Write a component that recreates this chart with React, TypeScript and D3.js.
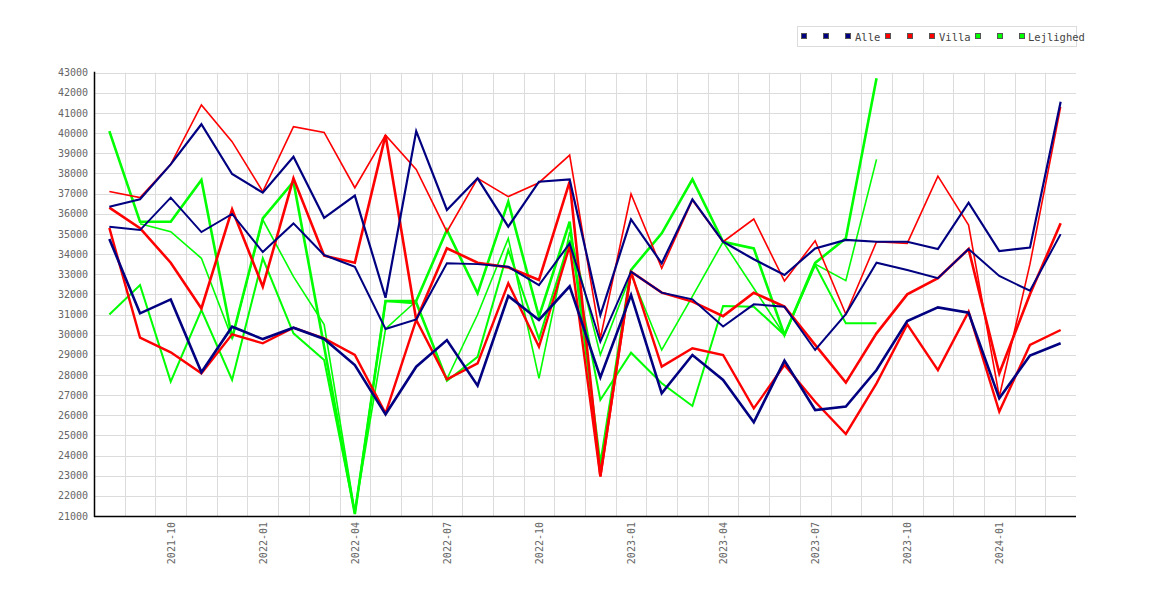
import React from "react";
import * as d3 from "d3";

const months = [
  "2021-08", "2021-09", "2021-10", "2021-11", "2021-12",
  "2022-01", "2022-02", "2022-03", "2022-04", "2022-05", "2022-06",
  "2022-07", "2022-08", "2022-09", "2022-10", "2022-11", "2022-12",
  "2023-01", "2023-02", "2023-03", "2023-04", "2023-05", "2023-06",
  "2023-07", "2023-08", "2023-09", "2023-10", "2023-11", "2023-12",
  "2024-01", "2024-02", "2024-03",
];

const xTickLabels = [
  "2021-10", "2022-01", "2022-04", "2022-07", "2022-10",
  "2023-01", "2023-04", "2023-07", "2023-10", "2024-01",
];

const yTicks = [
  21000, 22000, 23000, 24000, 25000, 26000, 27000, 28000, 29000, 30000, 31000, 32000,
  33000, 34000, 35000, 36000, 37000, 38000, 39000, 40000, 41000, 42000, 43000,
];

// Alle (navy)
const alle1 = [36350, 36715, 38450, 40440, 37970, 37045, 38830, 35800, 36900, 31830, 40100, 36190, 37757, 35360, 37590, 37700, 30976, 35720, 33540, 36715, 34610, 33740, 32960, 34280, 34700, 34610, 34610, 34250, 36550, 34150, 34320, 41560];
const alle2 = [35360, 35190, 36800, 35090, 35990, 34100, 35520, 33950, 33370, 30280, 30760, 33540, 33500, 33370, 32460, 34530, 29650, 33126, 32084, 31753, 30400, 31505, 31390, 29240, 31020, 33570, 33210, 32800, 34250, 32910, 32180, 34990];
const alle3 = [34750, 31057, 31750, 28130, 30395, 29780, 30346, 29785, 28490, 26046, 28410, 29730, 27470, 31920, 30730, 32400, 27880, 31970, 27090, 28990, 27750, 25650, 28710, 26260, 26430, 28245, 30675, 31355, 31090, 26840, 28960, 29570];

// Villa (red)
const villa1 = [37100, 36800, 38450, 41400, 39580, 37100, 40320, 40040, 37290, 39900, 38200, 35110, 37760, 36850, 37540, 38910, 29818, 36980, 33292, 36670, 34610, 35740, 32660, 34660, 31010, 34610, 34530, 37870, 35440, 26920, 33500, 41300];
const villa2 = [36300, 35280, 33570, 31300, 36220, 32380, 37757, 33920, 33570, 39900, 30730, 34290, 33570, 33340, 32713, 37593, 23000, 33126, 32084, 31640, 30920, 32080, 31390, 29490, 27620, 30065, 32000, 32800, 34250, 28080, 32000, 35530];
const villa3 = [35300, 29850, 29120, 28080, 30015, 29570, 30346, 29817, 28990, 26095, 30730, 27780, 28575, 32550, 29400, 34400, 22950, 33126, 28412, 29322, 28990, 26340, 28490, 26670, 25070, 27580, 30510, 28240, 31140, 26180, 29490, 30230];

// Lejlighed (green)
const lejl1 = [40100, 35600, 35600, 37675, 29820, 35770, 37590, 29400, 21100, 31670, 31670, 35200, 32050, 36600, 30890, 35610, 23530, 33210, 35030, 37710, 34610, 34280, 29985, 33560, 34780, 42720];
const lejl2 = [null, 35500, 35110, 33790, 29820, 35700, 32880, 30500, 21200, 30280, 31670, 27800, 31000, 34780, 27830, 35100, 29000, 33000, 29240, 31900, 34610, 32300, 29985, 33500, 32680, 38700];
const lejl3 = [31000, 32460, 27670, 31220, 27750, 33790, 30065, 28740, 21150, 31670, 31550, 27700, 28900, 34200, 29800, 34700, 26760, 29105, 27585, 26460, 31420, 31390, 29985, 33450, 30560, 30560];

const legendNames = ["Alle", "Villa", "Lejlighed"];

const NAVY = "#000080";
const RED = "#ff0000";
const GREEN = "#00ff00";

const FONT = "'DejaVu Sans Mono', monospace";

export default function App() {
  const left = 94;
  const right = 1076;
  const top = 72.7;
  const bottom = 516;

  const x = d3.scaleBand<string>().domain(months).range([left, right]);
  const bw = x.bandwidth();
  const cx = (i: number) => (x(months[i]) as number) + bw / 2;
  const y = d3.scaleLinear().domain([21000, 43000]).range([bottom, top]);

  const line = d3
    .line<number | null>()
    .defined((d) => d != null)
    .x((_, i) => cx(i))
    .y((d) => y(d as number));

  const series = [
    { values: lejl3, color: GREEN, width: 2 },
    { values: lejl2, color: GREEN, width: 1.6 },
    { values: lejl1, color: GREEN, width: 2.6 },
    { values: villa1, color: RED, width: 1.6 },
    { values: villa3, color: RED, width: 2.4 },
    { values: villa2, color: RED, width: 2.6 },
    { values: alle2, color: NAVY, width: 2 },
    { values: alle1, color: NAVY, width: 2.2 },
    { values: alle3, color: NAVY, width: 2.6 },
  ];

  const legendGroups = [
    { color: NAVY, squares: [801.5, 823.5, 845.5], textX: 855, name: legendNames[0] },
    { color: RED, squares: [885.5, 907.5, 929.5], textX: 939, name: legendNames[1] },
    { color: GREEN, squares: [975.5, 997.5, 1019.5], textX: 1028, name: legendNames[2] },
  ];

  return (
    <svg
      width={1170}
      height={600}
      style={{ position: "absolute", left: 0, top: 0, background: "#fff" }}
    >
      <rect x={0} y={0} width={1170} height={600} fill="#fff" />
      {/* horizontal grid */}
      {yTicks.map((t) => (
        <line
          key={"h" + t}
          x1={left}
          x2={right}
          y1={Math.round(y(t)) + 0.5}
          y2={Math.round(y(t)) + 0.5}
          stroke="#dcdcdc"
          strokeWidth={1}
        />
      ))}
      {/* vertical grid at band boundaries */}
      {months.slice(1).map((m) => (
        <line
          key={"v" + m}
          x1={Math.round(x(m) as number) + 0.5}
          x2={Math.round(x(m) as number) + 0.5}
          y1={top}
          y2={bottom}
          stroke="#dcdcdc"
          strokeWidth={1}
        />
      ))}
      {/* data lines */}
      {series.map((s, k) => (
        <path
          key={"s" + k}
          d={line(s.values as (number | null)[]) || ""}
          fill="none"
          stroke={s.color}
          strokeWidth={s.width}
          strokeLinejoin="miter"
        />
      ))}
      {/* axes */}
      <line x1={left + 0.5} x2={left + 0.5} y1={top - 1} y2={bottom + 1} stroke="#000" strokeWidth={1.5} />
      <line x1={left} x2={right} y1={bottom + 0.5} y2={bottom + 0.5} stroke="#000" strokeWidth={1.5} />
      {/* y tick labels */}
      {yTicks.map((t) => (
        <text
          key={"yl" + t}
          x={88}
          y={y(t) + 3.6}
          textAnchor="end"
          fontFamily={FONT}
          fontSize={10}
          fill="#666"
        >
          {t}
        </text>
      ))}
      {/* x tick labels */}
      {xTickLabels.map((lab) => {
        const i = months.indexOf(lab);
        const px = cx(i) + 4;
        return (
          <text
            key={"xl" + lab}
            transform={`translate(${px},${bottom + 6}) rotate(-90)`}
            textAnchor="end"
            fontFamily={FONT}
            fontSize={10}
            fill="#666"
          >
            {lab}
          </text>
        );
      })}
      {/* legend */}
      <rect x={797.5} y={26.5} width={279} height={20} fill="#fff" stroke="#dcdcdc" strokeWidth={1} />
      {legendGroups.map((g) => (
        <g key={"lg" + g.name}>
          {g.squares.map((sx) => (
            <rect
              key={"sq" + sx}
              x={sx}
              y={33.5}
              width={5}
              height={5}
              fill={g.color}
              stroke="#555"
              strokeWidth={1}
            />
          ))}
          <text x={g.textX} y={40.5} fontFamily={FONT} fontSize={10.5} fill="#444">
            {g.name}
          </text>
        </g>
      ))}
    </svg>
  );
}
